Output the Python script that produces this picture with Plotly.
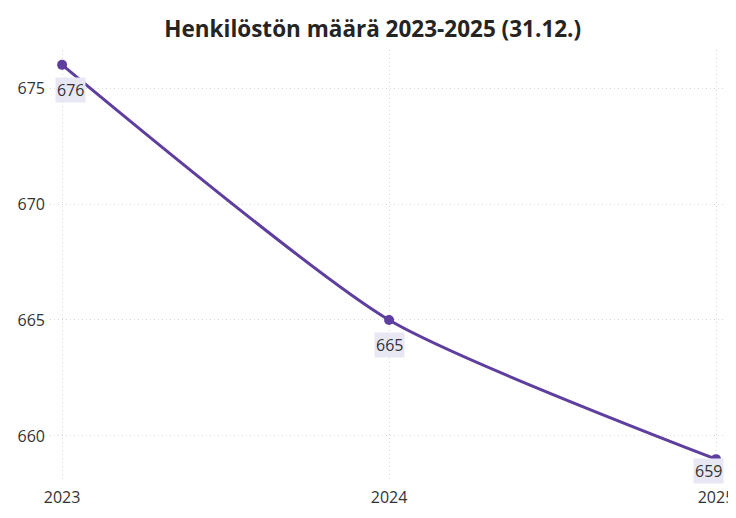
import plotly.graph_objects as go

years = [2023, 2024, 2025]
headcount = [676, 665, 659]
y_ticks = [660, 665, 670, 675]
label_xshift = [8, 0, -8]
label_yshift = [-25, -25, -12]

color = "#5E3E9E"

fig = go.Figure()
fig.add_trace(go.Scatter(
    x=years, y=headcount, mode="lines+markers",
    line=dict(color=color, width=3, shape="spline", smoothing=0.6),
    marker=dict(color=color, size=10),
    hoverinfo="skip", cliponaxis=False,
))

for x, y, dx, dy in zip(years, headcount, label_xshift, label_yshift):
    fig.add_annotation(
        x=x, y=y, text=str(y), showarrow=False, yshift=dy, xshift=dx,
        bgcolor="#E7E8F4", borderpad=1,
        font=dict(family="Open Sans, sans-serif", size=16, color="#333333"),
    )

fig.update_layout(
    width=728, height=502,
    margin=dict(l=42, r=11, t=42, b=30, autoexpand=False),
    paper_bgcolor="white", plot_bgcolor="white",
    showlegend=False,
    title=dict(
        text="<b>Henkilöstön määrä 2023-2025 (31.12.)</b>",
        x=0.501, xanchor="center", y=0.9745, yanchor="top",
        font=dict(family="Open Sans, sans-serif", size=22.5, color="#252423"),
    ),
    font=dict(family="Open Sans, sans-serif", size=16, color="#333333"),
)
fig.update_xaxes(
    range=[2022.963, 2025.0275], tickvals=years, ticktext=[str(y) for y in years],
    showgrid=True, gridcolor="#D8D8D8", griddash="1px,3px", gridwidth=1,
    zeroline=False, showline=False, ticks="", ticklabelstandoff=6, automargin=False,
    ticklabeloverflow="allow",
)
fig.update_yaxes(
    range=[658.1, 676.64], tickvals=y_ticks,
    showgrid=True, gridcolor="#D8D8D8", griddash="1px,3px", gridwidth=1,
    zeroline=False, showline=False, ticks="", ticklabelstandoff=4, automargin=False,
)

fig.write_html("out.html")
